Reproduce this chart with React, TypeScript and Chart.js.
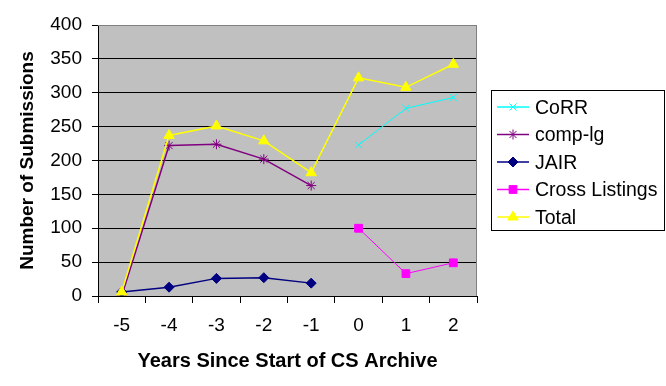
import React, { useEffect, useRef } from "react";
import { Chart, registerables } from "chart.js";
import { drawPoint } from "chart.js/helpers";

Chart.register(...registerables);

const years = ["-5", "-4", "-3", "-2", "-1", "0", "1", "2"];
const corr = [null, null, null, null, null, 223, 277, 293];
const compLg = [0, 222, 224, 202, 163, null, null, null];
const jair = [6, 13, 26, 27, 19, null, null, null];
const crossListings = [null, null, null, null, null, 100, 33, 49];
const total = [6, 237, 251, 229, 182, 322, 308, 342];
const yTicks = [0, 50, 100, 150, 200, 250, 300, 350, 400];

const FONT = "'Liberation Sans', Arial, sans-serif";

export default function App() {
  const ref = useRef<HTMLCanvasElement>(null);

  useEffect(() => {
    if (!ref.current) return;
    const series = [
      { label: "CoRR", data: corr, color: "#00FFFF", style: "crossRot", radius: 5, bw: 1, order: 4 },
      { label: "comp-lg", data: compLg, color: "#800080", style: "star", radius: 5, bw: 1.5, order: 3 },
      { label: "JAIR", data: jair, color: "#000080", style: "rectRot", radius: 5, bw: 1.5, order: 2 },
      { label: "Cross Listings", data: crossListings, color: "#FF00FF", style: "rect", radius: 5.5, bw: 1, order: 1 },
      { label: "Total", data: total, color: "#FFFF00", style: "triangle", radius: 6, bw: 1.5, order: 0 },
    ];

    const bgPlugin = {
      id: "bg",
      beforeDraw(chart: any) {
        const { ctx, chartArea: a } = chart;
        ctx.save();
        ctx.fillStyle = "#C0C0C0";
        ctx.fillRect(a.left, a.top, a.right - a.left, a.bottom - a.top);
        ctx.restore();
      },
      afterDraw(chart: any) {
        const { ctx, chartArea: a } = chart;
        ctx.save();
        ctx.strokeStyle = "#808080";
        ctx.lineWidth = 1;
        ctx.beginPath();
        ctx.moveTo(a.left, a.top + 0.5);
        ctx.lineTo(a.right - 0.5, a.top + 0.5);
        ctx.lineTo(a.right - 0.5, a.bottom);
        ctx.stroke();
        ctx.restore();
        // legend
        const x0 = 491, y0 = 90, w = 173, h = 140;
        ctx.save();
        ctx.fillStyle = "#FFFFFF";
        ctx.fillRect(x0, y0, w, h);
        ctx.strokeStyle = "#000";
        ctx.lineWidth = 1;
        ctx.strokeRect(x0 + 0.5, y0 + 0.5, w, h);
        ctx.font = `19.5px ${FONT}`;
        ctx.textBaseline = "middle";
        ctx.textAlign = "left";
        series.forEach((s, i) => {
          const y = 107 + i * 27.5;
          ctx.strokeStyle = s.color;
          ctx.lineWidth = 1.5;
          ctx.beginPath();
          ctx.moveTo(497, y);
          ctx.lineTo(529, y);
          ctx.stroke();
          ctx.fillStyle = s.color;
          ctx.strokeStyle = s.color;
          ctx.lineWidth = 1;
          drawPoint(ctx, { pointStyle: s.style as any, radius: s.radius, rotation: 0, borderWidth: 1 }, 513, y);
          ctx.fillStyle = "#000";
          ctx.fillText(s.label, 535, y + 1.5);
        });
        ctx.restore();
      },
    };

    const chart = new Chart(ref.current, {
      type: "line",
      data: {
        labels: years,
        datasets: series.map((s) => ({
          label: s.label,
          data: s.data,
          borderColor: s.color,
          backgroundColor: s.color,
          pointBackgroundColor: s.color,
          pointBorderColor: s.color,
          pointStyle: s.style as any,
          pointRadius: s.radius,
          pointBorderWidth: 1,
          borderWidth: s.bw,
          spanGaps: false,
          tension: 0,
          order: s.order,
        })),
      },
      options: {
        animation: false,
        responsive: false,
        layout: { padding: { top: 25, right: 189, left: 0, bottom: 0 } },
        plugins: { legend: { display: false }, tooltip: { enabled: false } },
        scales: {
          x: {
            type: "category",
            offset: true,
            grid: {
              offset: true,
              drawOnChartArea: false,
              drawTicks: true,
              tickLength: 7,
              tickColor: "#000",
              color: "#000",
            },
            border: { color: "#000", width: 1 },
            ticks: { color: "#000", font: { family: FONT, size: 19 }, padding: 11, maxRotation: 0 },
            title: {
              display: true,
              text: "Years Since Start of CS Archive",
              color: "#000",
              font: { family: FONT, size: 20, weight: "bold" },
              padding: { top: 0, bottom: 13 },
            },
            afterFit(scale: any) {
              scale.height = 90;
            },
          },
          y: {
            min: 0,
            max: 400,
            afterBuildTicks(scale: any) {
              scale.ticks = yTicks.map((v) => ({ value: v }));
            },
            grid: {
              color: (c: any) => (c.tick && c.tick.value === 400 ? "#808080" : "#000"),
              tickColor: "#000",
              tickLength: 6,
              lineWidth: 1,
            },
            border: { color: "#000", width: 1 },
            ticks: { color: "#000", font: { family: FONT, size: 19 }, padding: 10 },
            title: {
              display: true,
              text: "Number of Submissions",
              color: "#000",
              font: { family: FONT, size: 19, weight: "bold" },
              padding: { top: 16, bottom: 0 },
            },
            afterFit(scale: any) {
              scale.width = 98;
            },
          },
        },
      },
      plugins: [bgPlugin],
    });
    return () => chart.destroy();
  }, []);

  return (
    <div style={{ position: "absolute", left: 0, top: 0, width: 666, height: 386, background: "#fff" }}>
      <canvas ref={ref} width={666} height={386} style={{ width: 666, height: 386 }} />
    </div>
  );
}
